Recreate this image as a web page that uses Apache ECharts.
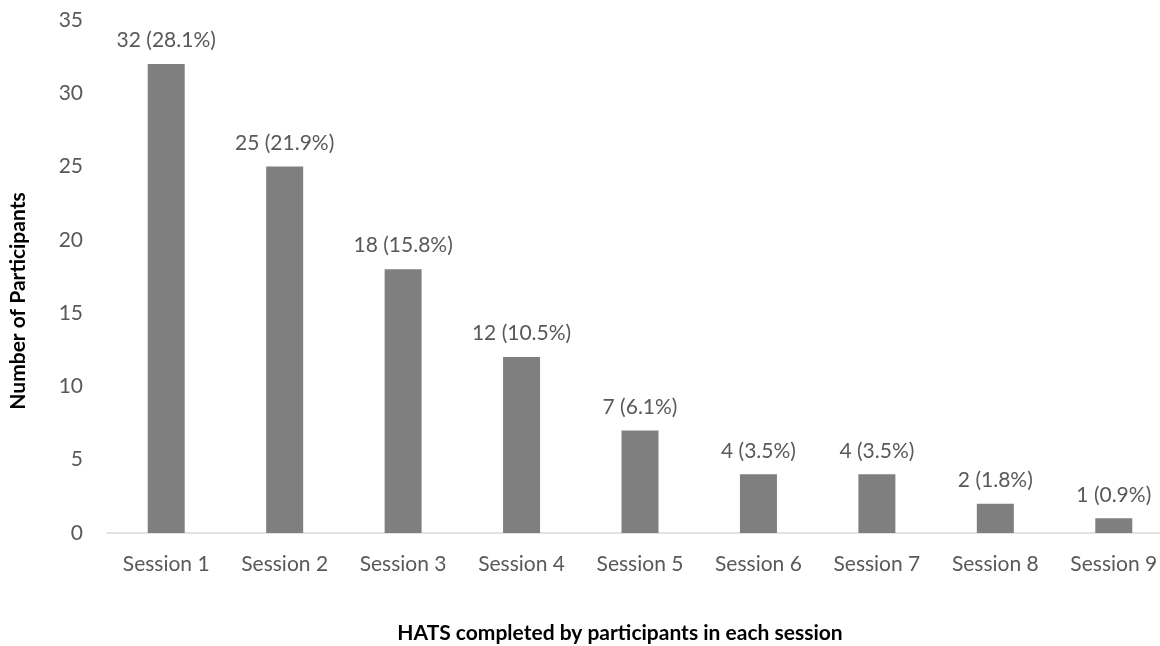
<!DOCTYPE html>
<html>
<head>
<meta charset="utf-8">
<script src="https://cdn.jsdelivr.net/npm/echarts@6/dist/echarts.min.js"></script>
<style>
  html, body { margin: 0; padding: 0; background: #ffffff; overflow: hidden; }
  /* plot area runs slightly past the right edge of the page */
  #chart { width: 1180px; height: 646px; }
</style>
</head>
<body>
<div id="chart"></div>
<script>
// Sessions and participant counts
const sessions = ['Session 1', 'Session 2', 'Session 3', 'Session 4', 'Session 5',
                  'Session 6', 'Session 7', 'Session 8', 'Session 9'];
const participants = [32, 25, 18, 12, 7, 4, 4, 2, 1];
const percentLabels = ['28.1%', '21.9%', '15.8%', '10.5%', '6.1%', '3.5%', '3.5%', '1.8%', '0.9%'];
const yTicks = { min: 0, max: 35, interval: 5 };

const FONT = 'Lato, "Liberation Sans", sans-serif';
const TEXT = '#595959';

const chart = echarts.init(document.getElementById('chart'));
chart.setOption({
  backgroundColor: '#ffffff',
  animation: false,
  grid: { left: 107, right: 7, top: 20, bottom: 113, containLabel: false },
  xAxis: {
    type: 'category',
    data: sessions,
    axisLine: { lineStyle: { color: '#d9d9d9', width: 1.5 } },
    axisTick: { show: false },
    axisLabel: { color: TEXT, fontFamily: FONT, fontSize: 21, margin: 21 }
  },
  yAxis: {
    type: 'value',
    min: yTicks.min, max: yTicks.max, interval: yTicks.interval,
    splitLine: { show: false },
    axisLine: { show: false },
    axisTick: { show: false },
    axisLabel: { color: TEXT, fontFamily: FONT, fontSize: 21, margin: 24 }
  },
  series: [{
    type: 'bar',
    data: participants,
    barWidth: 37,
    itemStyle: { color: '#7f7f7f' },
    label: {
      show: true,
      position: 'top',
      distance: 13,
      color: TEXT,
      fontFamily: FONT,
      fontSize: 21,
      formatter: p => p.value + ' (' + percentLabels[p.dataIndex] + ')'
    }
  }],
  graphic: [
    {
      type: 'text',
      x: 620, y: 633,
      style: {
        text: 'HATS completed by participants in each session',
        fill: '#000000',
        font: 'bold 21px ' + FONT,
        textAlign: 'center',
        textVerticalAlign: 'middle'
      }
    },
    {
      type: 'text',
      x: 18, y: 301,
      rotation: Math.PI / 2,
      style: {
        text: 'Number of Participants',
        fill: '#000000',
        font: 'bold 21px ' + FONT,
        textAlign: 'center',
        textVerticalAlign: 'middle'
      }
    }
  ]
});
</script>
</body>
</html>
